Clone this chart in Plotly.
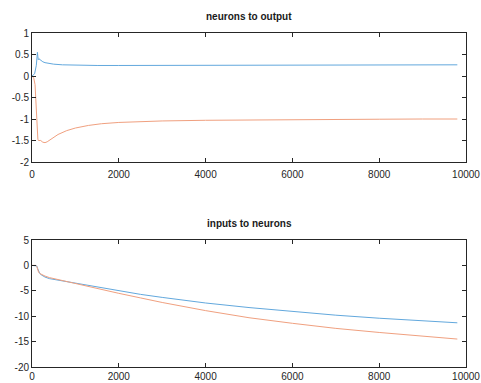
import plotly.graph_objects as go

# Top panel: neurons to output
x_top_blue = [0, 60, 100, 125, 135, 145, 160, 200, 250, 300, 400, 500, 700, 1000, 1500, 2000, 3000, 4000, 5000, 6000, 7000, 8000, 9000, 9800]
y_top_blue = [0.0, 0.05, 0.25, 0.55, 0.45, 0.38, 0.40, 0.36, 0.33, 0.31, 0.29, 0.275, 0.26, 0.25, 0.245, 0.245, 0.245, 0.248, 0.25, 0.252, 0.255, 0.257, 0.258, 0.26]

x_top_orange = [0, 40, 70, 90, 110, 125, 135, 150, 200, 250, 300, 350, 400, 500, 600, 800, 1000, 1300, 1600, 2000, 2500, 3000, 4000, 5000, 6000, 7000, 8000, 9000, 9800]
y_top_orange = [0.0, -0.05, -0.2, -0.6, -1.2, -1.45, -1.47, -1.5, -1.5, -1.54, -1.55, -1.53, -1.5, -1.43, -1.36, -1.27, -1.21, -1.15, -1.11, -1.08, -1.06, -1.045, -1.03, -1.02, -1.015, -1.01, -1.005, -1.0, -1.0]

# Bottom panel: inputs to neurons
x_bot_blue = [0, 80, 110, 130, 150, 180, 220, 300, 400, 600, 800, 1000, 1500, 2000, 2500, 3000, 4000, 5000, 6000, 7000, 8000, 9000, 9800]
y_bot_blue = [0.0, 0.0, -0.1, -0.6, -1.2, -1.6, -1.9, -2.3, -2.6, -2.9, -3.2, -3.5, -4.3, -5.0, -5.7, -6.3, -7.4, -8.3, -9.1, -9.8, -10.4, -10.9, -11.3]

x_bot_orange = [0, 80, 110, 130, 150, 180, 220, 300, 400, 600, 800, 1000, 1500, 2000, 2500, 3000, 4000, 5000, 6000, 7000, 8000, 9000, 9800]
y_bot_orange = [0.0, 0.0, -0.2, -0.8, -1.3, -1.6, -1.8, -2.1, -2.4, -2.8, -3.1, -3.5, -4.5, -5.5, -6.4, -7.3, -8.9, -10.3, -11.4, -12.4, -13.2, -13.9, -14.5]

x_ticks = [0, 2000, 4000, 6000, 8000, 10000]
top_y_ticks = [1, 0.5, 0, -0.5, -1, -1.5, -2]
bot_y_ticks = [5, 0, -5, -10, -15, -20]

blue = "#62a8dd"
orange = "#f0a07f"

W, Hfig = 481, 383
ML, MR, MT, MB = 32, 15, 33, 16
H = Hfig - MT - MB
top_dom = [1 - (162 - MT) / H, 1.0]
bot_dom = [0.0, (Hfig - MB - 240) / H]

fig = go.Figure()
fig.add_trace(go.Scatter(x=x_top_blue, y=y_top_blue, mode="lines", line=dict(color=blue, width=1), xaxis="x", yaxis="y"))
fig.add_trace(go.Scatter(x=x_top_orange, y=y_top_orange, mode="lines", line=dict(color=orange, width=1), xaxis="x", yaxis="y"))
fig.add_trace(go.Scatter(x=x_bot_blue, y=y_bot_blue, mode="lines", line=dict(color=blue, width=1), xaxis="x2", yaxis="y2"))
fig.add_trace(go.Scatter(x=x_bot_orange, y=y_bot_orange, mode="lines", line=dict(color=orange, width=1), xaxis="x2", yaxis="y2"))

font = dict(family="Liberation Sans, Arial", size=10, color="#262626")
axis_style = dict(showgrid=False, zeroline=False, showline=True, linecolor="#262626", linewidth=1,
                  mirror="ticks", ticks="inside", ticklen=4, tickcolor="#262626", tickfont=font,
                  automargin=False)

fig.update_layout(
    width=W, height=Hfig, autosize=False,
    margin=dict(l=ML, r=MR, t=MT, b=MB, pad=0, autoexpand=False),
    paper_bgcolor="white", plot_bgcolor="white",
    showlegend=False,
    xaxis=dict(domain=[0, 1], anchor="y", range=[0, 10000], tickvals=x_ticks, ticktext=[str(v) for v in x_ticks], ticklabelstandoff=3, **axis_style),
    yaxis=dict(domain=top_dom, anchor="x", range=[-2, 1], tickvals=top_y_ticks, ticktext=[("%g" % v) for v in top_y_ticks], **axis_style),
    xaxis2=dict(domain=[0, 1], anchor="y2", range=[0, 10000], tickvals=x_ticks, ticktext=[str(v) for v in x_ticks], ticklabelstandoff=0, **axis_style),
    yaxis2=dict(domain=bot_dom, anchor="x2", range=[-20, 5], tickvals=bot_y_ticks, ticktext=[("%g" % v) for v in bot_y_ticks], **axis_style),
)
title_font = dict(family="Liberation Sans, Arial", size=10, color="#1a1a1a")
fig.add_annotation(text="<b>neurons to output</b>", x=0.5, xref="paper", y=1 + (MT - 16) / H, yref="paper",
                   yanchor="middle", showarrow=False, font=title_font)
fig.add_annotation(text="<b>inputs to neurons</b>", x=0.5, xref="paper", y=1 + (MT - 223) / H, yref="paper",
                   yanchor="middle", showarrow=False, font=title_font)

fig.write_html("out.html", config={"responsive": False},
               post_script="document.body.style.margin='0';document.body.style.padding='0';")
